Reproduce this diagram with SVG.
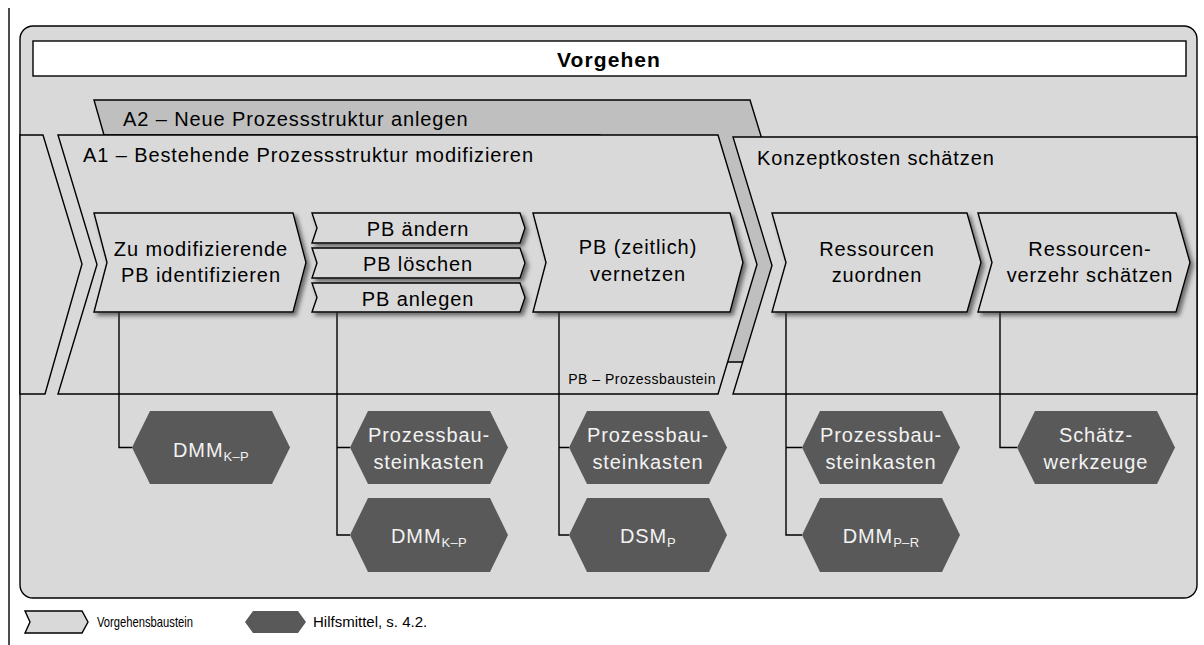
<svg xmlns="http://www.w3.org/2000/svg" width="1204" height="645" viewBox="0 0 1204 645">
<defs>
<style>
.t{font-family:"Liberation Sans",Arial,sans-serif;font-size:20px;letter-spacing:0.9px;fill:#000}
.ht{font-family:"Liberation Sans",Arial,sans-serif;font-size:20px;letter-spacing:0.9px;fill:#f2f2f2}
.sub{font-size:13px;letter-spacing:0.3px}
.sm{font-family:"Liberation Sans",Arial,sans-serif;font-size:14px;letter-spacing:0.5px;fill:#000}
.lg{font-family:"Liberation Sans",Arial,sans-serif;font-size:15px;fill:#000}
.area{fill:#d9d9d9;stroke:#000;stroke-width:1.4}
.chev{fill:#d9d9d9;stroke:#000;stroke-width:1.4;filter:url(#sh)}
.hex{fill:#595959}
.ln{fill:none;stroke:#000;stroke-width:1.4}
</style>
<filter id="sh" x="-10%" y="-20%" width="125%" height="150%">
<feGaussianBlur in="SourceAlpha" stdDeviation="2.2" result="b"/>
<feOffset in="b" dx="3" dy="3" result="o"/>
<feFlood flood-color="#3a3a3a" flood-opacity="0.7"/>
<feComposite in2="o" operator="in" result="s"/>
<feMerge><feMergeNode in="s"/><feMergeNode in="SourceGraphic"/></feMerge>
</filter>
</defs>

<line x1="9" y1="8" x2="9" y2="645" stroke="#000" stroke-width="1.4"/>

<g id="frame">
<rect x="20" y="26" width="1177" height="572" rx="13" class="area"/>
<rect x="33" y="41" width="1153" height="35" fill="#fff" stroke="#000" stroke-width="1.4"/>
<text x="609" y="67" text-anchor="middle" style="font-family:'Liberation Sans',Arial,sans-serif;font-size:21px;font-weight:bold;letter-spacing:1.1px">Vorgehen</text>
</g>

<g id="A2">
<polygon points="94,100 750,100 790,231 743,362 600,362 600,135 104,135" fill="#bfbfbf" stroke="#000" stroke-width="1.4"/>
<text x="123" y="126" class="t">A2 – Neue Prozessstruktur anlegen</text>
</g>

<g id="left-piece">
<polygon points="20,135 43,135 82,264 45,394 20,394" class="area"/>
</g>

<g id="A1">
<polygon points="58,135 718,135 757,264.5 718,394 58,394 97,264.5" class="area"/>
<text x="83" y="162" class="t">A1 – Bestehende Prozessstruktur modifizieren</text>
<text x="716" y="384" text-anchor="end" class="sm">PB – Prozessbaustein</text>
</g>

<g id="konzept">
<polygon points="733,137 1197,137 1197,394 733,394 772,265.5" class="area"/>
<text x="757" y="165" class="t">Konzeptkosten schätzen</text>
</g>

<g id="connectors">
<path class="ln" d="M119,312 V447.5 H132"/>
<path class="ln" d="M337,312 V535 H350 M337,447.5 H350"/>
<path class="ln" d="M559,312 V535 H569 M559,447.5 H569"/>
<path class="ln" d="M786,312 V535 H802 M786,447.5 H802"/>
<path class="ln" d="M1000,312 V447.5 H1017"/>
</g>

<g id="c-identifizieren">
<polygon points="94,213 293,213 306,262.5 293,312 94,312 107,262.5" class="chev"/>
<text x="201" y="256" text-anchor="middle" class="t">Zu modifizierende</text>
<text x="201" y="282" text-anchor="middle" class="t">PB identifizieren</text>
</g>

<g id="c-aendern">
<polygon points="312,213 520,213 525,228 520,243 312,243 317,228" class="chev"/>
<text x="418" y="236" text-anchor="middle" class="t">PB ändern</text>
</g>
<g id="c-loeschen">
<polygon points="312,248 520,248 525,263 520,278 312,278 317,263" class="chev"/>
<text x="418" y="271" text-anchor="middle" class="t">PB löschen</text>
</g>
<g id="c-anlegen">
<polygon points="312,283 520,283 525,297.5 520,312 312,312 317,297.5" class="chev"/>
<text x="418" y="306" text-anchor="middle" class="t">PB anlegen</text>
</g>

<g id="c-vernetzen">
<polygon points="533,213 730,213 743,262.5 730,312 533,312 546,262.5" class="chev"/>
<text x="638" y="254" text-anchor="middle" class="t">PB (zeitlich)</text>
<text x="638" y="281" text-anchor="middle" class="t">vernetzen</text>
</g>

<g id="c-zuordnen">
<polygon points="772,213 967,213 981,262.5 967,312 772,312 786,262.5" class="chev"/>
<text x="877" y="256" text-anchor="middle" class="t">Ressourcen</text>
<text x="877" y="282" text-anchor="middle" class="t">zuordnen</text>
</g>

<g id="c-verzehr">
<polygon points="978,213 1176,213 1190,262.5 1176,312 978,312 992,262.5" class="chev"/>
<text x="1090" y="256" text-anchor="middle" class="t">Ressourcen-</text>
<text x="1090" y="282" text-anchor="middle" class="t">verzehr schätzen</text>
</g>

<g id="h-dmm1">
<polygon points="132,447.5 150,411 272,411 290,447.5 272,484 150,484" class="hex"/>
<text x="211" y="457" text-anchor="middle" class="ht">DMM<tspan class="sub" dy="4">K–P</tspan></text>
</g>
<g id="h-pbk1">
<polygon points="350,447.5 368,411 490,411 508,447.5 490,484 368,484" class="hex"/>
<text x="429" y="442" text-anchor="middle" class="ht">Prozessbau-</text>
<text x="429" y="469" text-anchor="middle" class="ht">steinkasten</text>
</g>
<g id="h-dmm2">
<polygon points="350,535 368,498 490,498 508,535 490,572 368,572" class="hex"/>
<text x="429" y="543" text-anchor="middle" class="ht">DMM<tspan class="sub" dy="4">K–P</tspan></text>
</g>
<g id="h-pbk2">
<polygon points="569,447.5 587,411 709,411 727,447.5 709,484 587,484" class="hex"/>
<text x="648" y="442" text-anchor="middle" class="ht">Prozessbau-</text>
<text x="648" y="469" text-anchor="middle" class="ht">steinkasten</text>
</g>
<g id="h-dsm">
<polygon points="569,535 587,498 709,498 727,535 709,572 587,572" class="hex"/>
<text x="648" y="543" text-anchor="middle" class="ht">DSM<tspan class="sub" dy="4">P</tspan></text>
</g>
<g id="h-pbk3">
<polygon points="802,447.5 820,411 942,411 960,447.5 942,484 820,484" class="hex"/>
<text x="881" y="442" text-anchor="middle" class="ht">Prozessbau-</text>
<text x="881" y="469" text-anchor="middle" class="ht">steinkasten</text>
</g>
<g id="h-dmm3">
<polygon points="802,535 820,498 942,498 960,535 942,572 820,572" class="hex"/>
<text x="881" y="543" text-anchor="middle" class="ht">DMM<tspan class="sub" dy="4">P–R</tspan></text>
</g>
<g id="h-schaetz">
<polygon points="1017,447.5 1035,411 1157,411 1175,447.5 1157,484 1035,484" class="hex"/>
<text x="1096" y="442" text-anchor="middle" class="ht">Schätz-</text>
<text x="1096" y="469" text-anchor="middle" class="ht">werkzeuge</text>
</g>

<g id="legend">
<polygon points="25,611 82,611 88,622 82,633 25,633 30,622" fill="#d9d9d9" stroke="#000" stroke-width="1.4"/>
<text x="97" y="627" class="lg" textLength="96" lengthAdjust="spacingAndGlyphs">Vorgehensbaustein</text>
<polygon points="245,622 253,611 298,611 306,622 298,633 253,633" class="hex"/>
<text x="313" y="627" class="lg">Hilfsmittel, s. 4.2.</text>
</g>
</svg>
